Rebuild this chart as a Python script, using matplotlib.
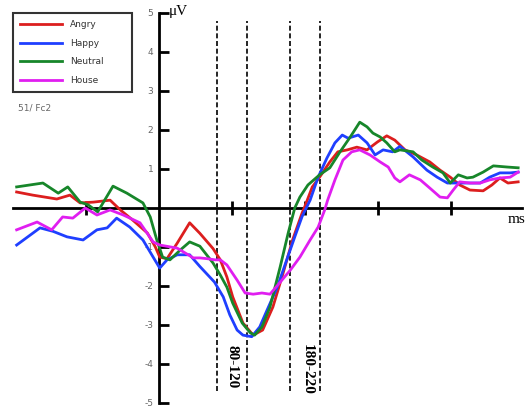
import numpy as np
import matplotlib
matplotlib.use("Agg")
import matplotlib.pyplot as plt

# ERP waveforms at 51/Fc2 (time in ms, amplitude in microvolts)
angry_t = [-195, -173, -140, -122, -108, -90, -67, -53, -36, -16, -5, 1, 11, 25, 42, 56,
           74, 84, 93, 101, 115, 129, 142, 156, 170, 183, 196, 200, 210, 220, 234, 245,
           258, 271, 285, 299, 312, 323, 337, 353, 371, 385, 399, 412, 426, 444, 456,
           467, 478, 492]
angry_v = [0.41, 0.33, 0.23, 0.33, 0.13, 0.15, 0.20, -0.05, -0.31, -0.64, -1.0, -1.26,
           -1.30, -0.90, -0.38, -0.65, -1.04, -1.33, -1.77, -2.28, -2.95, -3.26, -3.13,
           -2.54, -1.67, -0.82, -0.13, 0.05, 0.54, 0.79, 1.18, 1.44, 1.49, 1.56, 1.49,
           1.69, 1.85, 1.74, 1.49, 1.36, 1.18, 0.97, 0.79, 0.59, 0.46, 0.44, 0.59, 0.77,
           0.64, 0.67]

happy_t = [-195, -163, -145, -126, -104, -85, -71, -58, -40, -22, -8, 1, 11, 25, 42, 56,
           76, 88, 97, 107, 115, 127, 138, 148, 162, 175, 186, 196, 207, 218, 230, 241,
           251, 259, 273, 285, 296, 307, 320, 330, 348, 367, 381, 395, 408, 422, 440,
           453, 467, 481, 492]
happy_v = [-0.95, -0.51, -0.60, -0.74, -0.82, -0.56, -0.51, -0.26, -0.49, -0.82, -1.26,
           -1.54, -1.33, -1.20, -1.20, -1.50, -1.90, -2.28, -2.74, -3.13, -3.26, -3.30,
           -3.05, -2.62, -2.03, -1.33, -0.74, -0.22, 0.20, 0.79, 1.28, 1.67, 1.87, 1.79,
           1.87, 1.67, 1.36, 1.49, 1.44, 1.58, 1.31, 0.97, 0.79, 0.64, 0.64, 0.64, 0.64,
           0.79, 0.90, 0.90, 0.92]

neutral_t = [-195, -159, -138, -125, -108, -97, -84, -63, -44, -22, -12, -3, 5, 15, 29,
             42, 56, 74, 84, 93, 101, 114, 125, 131, 141, 152, 166, 177, 186, 193, 204,
             220, 234, 248, 262, 275, 285, 293, 303, 312, 323, 330, 348, 360, 375, 389,
             399, 410, 422, 430, 444, 458, 477, 492]
neutral_v = [0.54, 0.64, 0.38, 0.54, 0.15, 0.08, -0.10, 0.56, 0.38, 0.13, -0.23, -0.82,
             -1.26, -1.33, -1.08, -0.87, -0.98, -1.41, -1.72, -2.03, -2.44, -2.95, -3.20,
             -3.26, -3.05, -2.54, -1.51, -0.64, 0.0, 0.28, 0.59, 0.85, 1.03, 1.44, 1.82,
             2.20, 2.08, 1.92, 1.82, 1.67, 1.44, 1.49, 1.44, 1.23, 1.05, 0.90, 0.64, 0.85,
             0.77, 0.79, 0.92, 1.08, 1.05, 1.03]

house_t = [-195, -167, -147, -132, -118, -101, -85, -67, -49, -26, -8, 1, 25, 47, 56, 66,
           77, 84, 93, 107, 118, 129, 141, 152, 163, 180, 193, 207, 218, 227, 231, 241,
           252, 264, 275, 289, 303, 314, 323, 330, 343, 358, 371, 385, 395, 403, 412,
           426, 440, 453, 467, 481, 492]
house_v = [-0.56, -0.36, -0.56, -0.23, -0.26, 0.0, -0.18, -0.05, -0.18, -0.38, -0.87,
           -0.95, -1.03, -1.28, -1.28, -1.30, -1.33, -1.33, -1.46, -1.85, -2.18, -2.21,
           -2.18, -2.21, -1.97, -1.59, -1.26, -0.82, -0.49, -0.05, 0.20, 0.72, 1.23, 1.44,
           1.49, 1.36, 1.18, 1.05, 0.77, 0.67, 0.85, 0.72, 0.51, 0.28, 0.26, 0.46, 0.67,
           0.64, 0.64, 0.72, 0.77, 0.79, 0.92]

window_edges = [80, 120, 180, 220]
window_labels = ["80-120", "180-220"]
y_ticks = [-5, -4, -3, -2, -1, 1, 2, 3, 4, 5]
x_ticks = [-100, 100, 200, 300, 400]

fig = plt.figure(figsize=(5.27, 4.07), dpi=100)
ax = fig.add_axes([0, 0, 1, 1])
ax.set_xlim(-217.8, 504.1)
ax.set_ylim(-5.103, 5.333)

# axes crossing at zero
ax.spines["left"].set_position(("data", 0))
ax.spines["bottom"].set_position(("data", 0))
ax.spines["left"].set_bounds(-5, 5)
ax.spines["bottom"].set_bounds(-200, 497)
ax.spines["right"].set_visible(False)
ax.spines["top"].set_visible(False)
for s in ["left", "bottom"]:
    ax.spines[s].set_linewidth(2)

ax.set_yticks(y_ticks)
ax.set_yticklabels([str(v) for v in y_ticks])
ax.tick_params(axis="y", direction="in", length=7, width=2, labelsize=6.5,
               labelcolor="#666666", pad=4)
ax.set_xticks(x_ticks)
ax.tick_params(axis="x", direction="inout", length=10, width=2, labelbottom=False)

# time windows
for t in window_edges:
    ax.plot([t, t], [-4.7, 4.8], color="black", lw=1.2, ls=(0, (3, 1.6)), zorder=2)

ax.plot(angry_t, angry_v, color="#dc1e1e", lw=2.0, label="Angry", zorder=3)
ax.plot(happy_t, happy_v, color="#1f3fff", lw=2.0, label="Happy", zorder=3)
ax.plot(neutral_t, neutral_v, color="#17862a", lw=2.0, label="Neutral", zorder=3)
ax.plot(house_t, house_v, color="#e01ef0", lw=2.0, label="House", zorder=3)

ax.text(100, -4.08, window_labels[0], rotation=270, ha="center", va="center",
        fontsize=11, fontweight="bold", family="Liberation Serif")
ax.text(203, -4.15, window_labels[1], rotation=270, ha="center", va="center",
        fontsize=11, fontweight="bold", family="Liberation Serif")

ax.text(14, 5.05, "μV", ha="left", va="center", fontsize=11, family="Liberation Serif")
ax.text(502, -0.3, "ms", ha="right", va="center", fontsize=11, family="Liberation Serif")

leg = ax.legend(loc="upper left",
                bbox_to_anchor=(13 / 527, 1 - 92 / 407, 119 / 527, 79 / 407),
                mode="expand", fontsize=6.5, frameon=True, fancybox=False,
                edgecolor="black", handlelength=4.6, handletextpad=0.9,
                labelspacing=1.05, borderpad=0.8, borderaxespad=0)
leg.get_frame().set_linewidth(1.5)
for txt in leg.get_texts():
    txt.set_color("#333333")

fig.text(18 / 527, 1 - 108 / 407, "51/ Fc2", fontsize=6.5, color="#666666",
         ha="left", va="center")

fig.savefig("out.png", dpi=100)
